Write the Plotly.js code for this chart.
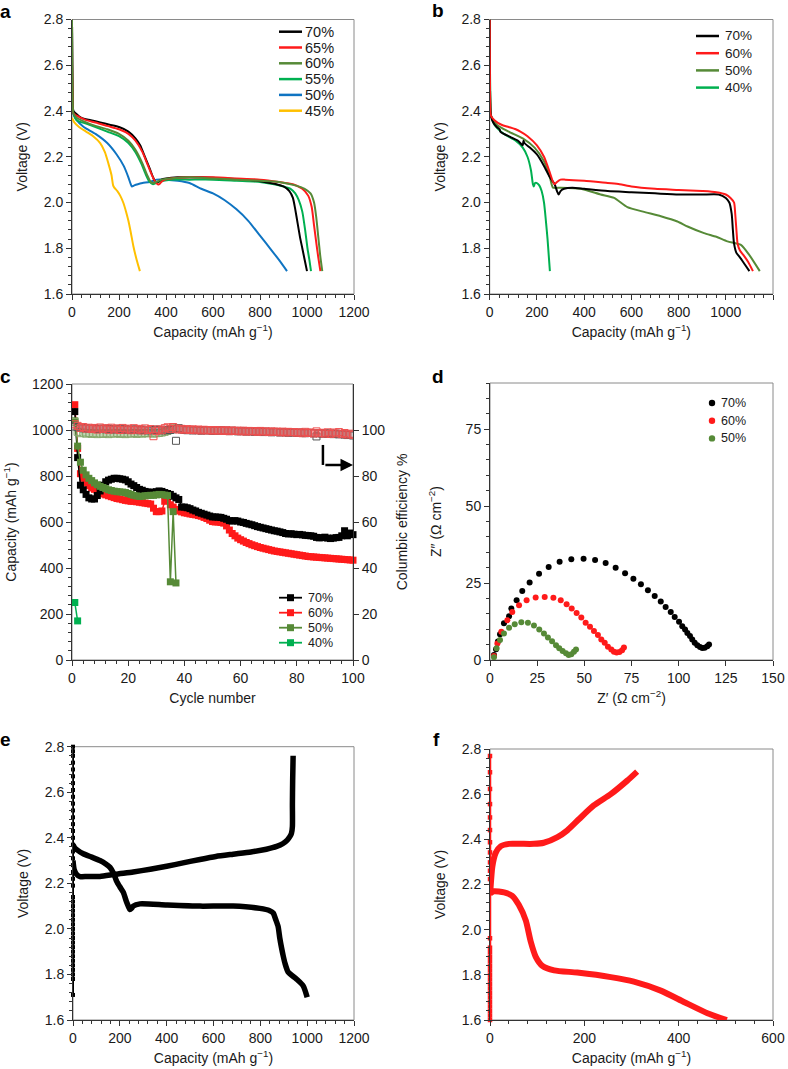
<!DOCTYPE html>
<html><head><meta charset="utf-8">
<script src="https://cdn.plot.ly/plotly-3.0.1.min.js"></script>
<style>html,body{margin:0;padding:0;background:#fff}#chart{width:788px;height:1069px}</style>
</head><body><div id="chart"></div><script>
// ---------- Panel a: discharge curves at different porosities ----------
const capA70 = [0,1,3,6,15,40,80,120,160,200,240,270,290,310,330,345,355,365,380,400,450,550,650,750,820,870,900,925,940,950,960,970,980,990,1000];
const vA70   = [2.80,2.60,2.45,2.40,2.39,2.37,2.36,2.35,2.34,2.33,2.31,2.28,2.25,2.20,2.15,2.11,2.09,2.09,2.10,2.105,2.11,2.11,2.105,2.10,2.09,2.08,2.07,2.05,2.02,1.97,1.91,1.85,1.80,1.75,1.70];
const capA65 = [0,1,3,6,20,60,100,150,200,240,270,300,320,340,355,365,372,380,395,420,500,600,700,800,880,940,980,1005,1020,1030,1040,1048,1057];
const vA65   = [2.80,2.60,2.45,2.39,2.38,2.36,2.35,2.335,2.32,2.30,2.27,2.22,2.17,2.12,2.09,2.08,2.08,2.09,2.10,2.105,2.11,2.11,2.105,2.10,2.09,2.08,2.06,2.03,1.98,1.90,1.82,1.76,1.70];
const capA60 = [0,1,3,6,20,60,100,150,200,240,270,300,320,335,345,360,380,420,500,600,700,800,880,950,990,1015,1030,1040,1048,1056,1065];
const vA60   = [2.80,2.60,2.45,2.39,2.37,2.35,2.335,2.32,2.30,2.27,2.23,2.17,2.12,2.09,2.085,2.09,2.10,2.105,2.11,2.105,2.10,2.095,2.09,2.075,2.06,2.04,2.00,1.93,1.85,1.77,1.70];
const capA55 = [0,1,3,6,20,60,100,150,200,240,270,295,315,330,345,370,420,500,600,700,800,860,900,930,950,965,980,992,1002,1010,1017];
const vA55   = [2.80,2.60,2.45,2.39,2.36,2.345,2.33,2.31,2.29,2.26,2.22,2.17,2.12,2.09,2.08,2.09,2.10,2.10,2.10,2.095,2.09,2.08,2.07,2.06,2.04,2.01,1.96,1.88,1.80,1.75,1.70];
const capA50 = [0,2,5,20,50,100,150,190,220,240,250,255,265,280,300,330,360,400,450,500,550,600,650,700,750,800,850,880,915];
const vA50   = [2.80,2.45,2.39,2.36,2.33,2.30,2.26,2.21,2.16,2.11,2.08,2.07,2.075,2.08,2.085,2.09,2.10,2.10,2.095,2.085,2.06,2.04,2.01,1.97,1.92,1.855,1.79,1.75,1.70];
const capA45 = [0,10,30,60,90,120,140,155,168,175,180,193,205,218,230,240,250,261,275,289];
const vA45   = [2.37,2.35,2.33,2.31,2.29,2.26,2.22,2.17,2.12,2.075,2.065,2.05,2.03,2.00,1.96,1.92,1.87,1.81,1.75,1.70];
const legendA = ['70%', '65%', '60%', '55%', '50%', '45%'];

// ---------- Panel b ----------
const capB70 = [0,2,5,15,30,42,45,60,90,120,140,143,147,170,200,230,255,275,285,292,300,315,350,400,500,600,700,800,900,970,1000,1015,1025,1030,1035,1045,1060,1080,1100];
const vB70   = [2.80,2.45,2.38,2.35,2.33,2.32,2.31,2.30,2.285,2.27,2.25,2.27,2.26,2.24,2.21,2.16,2.11,2.08,2.05,2.035,2.05,2.06,2.065,2.06,2.05,2.045,2.04,2.035,2.035,2.035,2.02,2.00,1.95,1.88,1.82,1.78,1.76,1.73,1.70];
const capB60 = [0,2,5,20,50,80,110,130,160,200,230,255,268,275,285,300,320,400,500,550,600,700,800,900,960,1000,1020,1035,1040,1045,1050,1060,1075,1095,1115];
const vB60   = [2.80,2.45,2.38,2.36,2.34,2.33,2.32,2.31,2.29,2.25,2.20,2.13,2.09,2.08,2.09,2.10,2.10,2.095,2.085,2.08,2.07,2.06,2.055,2.05,2.045,2.035,2.02,2.00,1.95,1.88,1.82,1.79,1.77,1.74,1.70];
const capB50 = [0,2,5,30,80,140,190,230,255,268,300,386,470,527,583,650,725,795,838,908,960,1007,1064,1100,1144];
const vB50   = [2.80,2.45,2.38,2.34,2.31,2.28,2.24,2.18,2.11,2.065,2.065,2.06,2.035,2.02,1.98,1.96,1.94,1.917,1.895,1.866,1.85,1.83,1.815,1.77,1.70];
const capB40 = [0,1,3,6,20,60,110,140,160,175,183,187,192,200,210,220,230,238,245,250,255];
const vB40   = [2.80,2.60,2.45,2.38,2.34,2.30,2.27,2.24,2.20,2.14,2.08,2.07,2.085,2.085,2.075,2.05,2.00,1.92,1.84,1.77,1.70];
const legendB = ['70%', '60%', '50%', '40%'];

// ---------- Panel c: cycling ----------
const cycleNumbers = [1,2,3,4,5,6,7,8,9,10,11,12,13,14,15,16,17,18,19,20,21,22,23,24,25,26,27,28,29,30,31,32,33,34,35,36,37,38,39,40,41,42,43,44,45,46,47,48,49,50,51,52,53,54,55,56,57,58,59,60,61,62,63,64,65,66,67,68,69,70,71,72,73,74,75,76,77,78,79,80,81,82,83,84,85,86,87,88,89,90,91,92,93,94,95,96,97,98,99,100];
const capC70 = [1080,880,760,740,720,705,700,700,715,735, 760,775,782,786,790,790,788,786,783,775, 765,758,750,742,738,733,730,730,728,732, 735,733,728,724,720,712,705,698,665,665, 662,658,652,648,642,638,634,630,626,622, 622,621,620,616,612,606,604,606,604,600, 598,594,591,588,584,580,577,574,571,568, 565,562,560,557,554,550,548,549,547,545, 546,544,542,541,540,538,533,531,532,534, 530,528,530,532,533,540,562,540,552,545];
const capC60 = [1110,920,810,790,770,758,748,742,735,728, 722,718,714,710,706,702,700,697,694,692, 690,690,688,686,684,682,680,678,660,645, 645,648,690,700,675,665,655,648,644,640, 638,635,633,631,628,625,620,615,608,602, 600,600,598,595,583,565,550,540,530,523, 517,511,506,501,497,493,489,486,483,480, 477,474,472,470,468,466,464,462,460,458, 456,454,452,450,449,448,447,446,445,444, 443,442,441,440,439,438,437,436,435,434];
const capC50 = [1040,930,860,825,805,790,780,770,762,755, 750,745,740,737,734,732,731,730,728,724, 720,716,713,711,712,714,715,716,716,718, 720,719,717,715,340,645,335];
const capC40 = [250,170];
const ceC70 = [101.5,101.2,100.9,100.7,100.8,100.6,100.5,100.7,100.4,100.6, 100.5,100.3,100.6,100.4,100.2,100.5,100.3,100.1,100.4,100.2, 100.0,100.3,100.1,99.9,100.2,100.0,99.8,100.1,99.9,100.2, 100.0,99.8,100.1,99.9,100.0,100.3,95.3,100.8,100.2,100.0, 99.9,100.1,99.8,100.0,99.9,99.7,100.0,99.8,99.9,99.6, 99.8,99.7,99.9,99.6,99.8,99.5,99.7,99.6,99.4,99.6, 99.5,99.3,99.5,99.4,99.2,99.4,99.3,99.1,99.3,99.2, 99.0,99.2,99.1,98.9,99.1,99.0,98.8,99.0,98.9,98.7, 98.9,98.8,98.6,98.8,98.7,98.5,97.2,98.6,98.4,98.6, 98.3,98.5,98.2,98.4,98.1,98.3,98.0,97.8,98.1,97.6];
const ceC60 = [102.5,101.8,100.9,101.3,100.6,101.0,100.4,100.9,100.2,101.1, 100.5,100.8,100.1,101.0,100.3,100.7,100.0,100.9,100.2,100.6, 99.9,100.8,100.1,100.5,99.8,100.7,100.0,100.4,97.3,99.6, 100.3,99.9,100.8,101.2,100.5,101.3,100.6,100.2,100.5,100.1, 100.4,100.0,100.3,99.9,100.2,99.8,100.1,99.8,100.0,99.7, 100.0,99.7,99.9,99.6,99.9,99.5,99.8,99.6,99.7,99.4, 99.7,99.3,99.6,99.4,99.5,99.2,99.6,99.3,99.4,99.1, 99.4,99.2,99.3,99.0,99.3,98.9,99.2,99.0,99.1,98.8, 99.0,98.6,99.2,98.7,98.9,98.5,99.4,98.6,98.8,98.4, 99.0,98.3,98.9,98.5,99.1,98.2,98.7,98.0,98.4,97.9];
const ceC50 = [103.5,99.2,98.6,98.9,98.4,98.7,98.3,98.6,98.2,98.5, 98.3,98.6,98.2,98.5,98.4,98.7,98.3,98.6,98.2,98.5, 98.4,98.7,98.3,98.6,98.4,98.7,98.5,98.8,98.4,98.6, 98.7,98.9,99.2,99.6,100.4,101.0,100.6];
const legendC = ['70%', '60%', '50%', '40%'];

// ---------- Panel d: Nyquist ----------
const zreD70 = [2.1,3.2,4.2,5.3,7.4,10.1,11.3,14.1,17.1,21.0,26.0,31.1,36.9,43.1,49.6,55.7,61.3,66.6,71.6,76.0,80.0,83.7,87.3,90.5,93.1,95.8,97.9,100.2,101.9,103.4,104.6,106.0,107.2,108.5,109.9,111.3,112.5,113.8,115.2,116.1];
const zimD70 = [1.6,3.5,6.0,8.4,11.9,14.2,16.7,19.4,22.4,25.2,28.0,30.2,31.9,32.7,32.9,32.5,31.5,30.0,28.2,26.4,24.6,22.7,20.8,19.0,17.2,15.6,14.0,12.4,11.0,9.9,8.8,7.8,6.7,5.6,4.8,4.2,3.9,4.0,4.5,5.0];
const zreD60 = [2.1,3.9,6.0,9.2,11.8,15.4,19.4,24.2,29.0,33.6,37.5,40.6,43.3,45.9,48.4,50.7,53.0,55.1,57.2,59.0,60.8,62.5,64.3,65.7,67.1,68.6,70.0,71.0];
const zimD60 = [1.3,5.4,9.2,12.9,15.6,17.8,19.4,20.3,20.5,20.2,19.4,18.1,16.7,15.3,13.8,12.1,10.8,9.4,8.1,6.7,5.6,4.3,3.4,2.7,2.4,2.6,3.2,4.1];
const zreD50 = [2.1,3.5,5.3,7.4,10.1,13.1,16.6,20.1,23.3,26.1,28.6,30.7,32.9,35.0,36.7,38.5,40.3,41.7,43.1,44.5,45.6];
const zimD50 = [0.9,3.8,6.5,8.6,10.5,11.6,12.3,12.1,11.2,9.9,8.6,7.3,6.1,4.8,3.8,2.9,2.2,1.6,1.9,2.7,3.4];
const legendD = ['70%', '60%', '50%'];

// ---------- Panel e ----------
const capEdis = [0,8,44,80,115,140,158,175,186,200,215,228,236,243,250,257,286,400,542,684,798,840,855,866,876,883,890,898,905,919,954,983,1000];
const vEdis   = [2.37,2.355,2.33,2.315,2.30,2.285,2.27,2.24,2.21,2.185,2.16,2.12,2.10,2.085,2.09,2.10,2.11,2.105,2.10,2.10,2.09,2.08,2.07,2.04,2.01,1.96,1.92,1.88,1.85,1.81,1.78,1.75,1.70];
const capEchg = [0,5,15,30,60,115,180,257,330,400,470,542,610,684,760,826,870,897,915,926,933,937,937,938,940];
const vEchg   = [2.30,2.26,2.24,2.23,2.23,2.23,2.24,2.25,2.262,2.275,2.29,2.305,2.318,2.328,2.338,2.35,2.362,2.375,2.39,2.405,2.42,2.45,2.55,2.65,2.76];
const vEcol   = [1.71,1.78,1.80,1.82,1.84,1.86,1.88,1.90,1.92,1.94,1.96,1.98,2.00,2.02,2.04,2.06,2.08,2.10,2.12,2.14,2.19,2.22,2.25,2.28,2.31,2.34,2.37,2.40,2.43,2.46,2.49,2.52,2.55,2.58,2.61,2.64,2.67,2.70,2.73,2.76,2.78,2.80];
const capEcol = vEcol.map(() => 0);

// ---------- Panel f ----------
const capFdis = [0,8,30,47,61,76,86,97,111,136,185,256,305,362,411,461,502];
const vFdis   = [2.16,2.17,2.165,2.15,2.11,2.04,1.95,1.88,1.84,1.82,1.81,1.79,1.77,1.73,1.68,1.63,1.60];
const capFchg = [1,5,12,23,40,65,93,114,143,164,189,220,256,291,312];
const vFchg   = [2.18,2.28,2.34,2.37,2.38,2.38,2.38,2.385,2.41,2.44,2.49,2.55,2.60,2.66,2.70];
const vFcol   = [1.60,1.62,1.64,1.66,1.68,1.70,1.72,1.74,1.76,1.78,1.80,1.82,1.84,1.86,1.88,1.90,1.92,1.962,2.224,2.261,2.298,2.342,2.387,2.441,2.497,2.556,2.623,2.697,2.769];
const capFcol = vFcol.map(() => 0);

// ---------- colours ----------
const BLACK = '#000000', RED = '#ff1a1a', OLIVE = '#568a37', GREEN = '#00b050', BLUE = '#0f74c2', YELLOW = '#ffc000';
const FONT = 'Liberation Sans, Arial, Helvetica, sans-serif';
const TXT = '#1a1a1a';
const colorsA = [BLACK, RED, OLIVE, GREEN, BLUE, YELLOW];
const colorsB = [BLACK, RED, OLIVE, GREEN];
const colorsC = [BLACK, RED, OLIVE, GREEN];
const colorsD = [BLACK, RED, OLIVE];

function ln(x, y, name, color, xa, ya, w) {
  return {x: x, y: y, name: name, type: 'scatter', mode: 'lines', line: {color: color, width: w || 2, shape: 'spline', smoothing: 0.6},
          xaxis: xa, yaxis: ya, showlegend: false, hoverinfo: 'skip'};
}

const traces = [];
// a
traces.push(ln(capA45, vA45, '45%', YELLOW, 'x', 'y'));
traces.push(ln(capA50, vA50, '50%', BLUE, 'x', 'y'));
traces.push(ln(capA55, vA55, '55%', GREEN, 'x', 'y'));
traces.push(ln(capA70, vA70, '70%', BLACK, 'x', 'y'));
traces.push(ln(capA65, vA65, '65%', RED, 'x', 'y'));
traces.push(ln(capA60, vA60, '60%', OLIVE, 'x', 'y'));
// b
traces.push(ln(capB40, vB40, '40%', GREEN, 'x2', 'y2'));
traces.push(ln(capB50, vB50, '50%', OLIVE, 'x2', 'y2'));
traces.push(ln(capB70, vB70, '70%', BLACK, 'x2', 'y2'));
traces.push(ln(capB60, vB60, '60%', RED, 'x2', 'y2'));
// c : coulombic efficiency (open squares, right axis)
function ce(y, color, n) {
  return {x: cycleNumbers.slice(0, y.length), y: y, type: 'scatter', mode: 'markers', showlegend: false,
          marker: {symbol: 'square-open', size: 7, color: color, line: {width: 1, color: color}},
          xaxis: 'x3', yaxis: 'y7', hoverinfo: 'skip', name: n};
}
traces.push(ce(ceC50, '#86a86a', 'CE 50%'));
traces.push(ce(ceC70, '#555555', 'CE 70%'));
traces.push(ce(ceC60, '#f05050', 'CE 60%'));
function capTr(y, name, color) {
  return {x: cycleNumbers.slice(0, y.length), y: y, name: name, type: 'scatter', mode: 'lines+markers',
          line: {color: color, width: 1.5}, marker: {symbol: 'square', size: 7, color: color},
          xaxis: 'x3', yaxis: 'y3', showlegend: false, hoverinfo: 'skip', cliponaxis: false};
}
traces.push(capTr(capC60, '60%', RED));
traces.push(capTr(capC70, '70%', BLACK));
traces.push(capTr(capC50, '50%', OLIVE));
traces.push(capTr(capC40, '40%', GREEN));
// d
function dots(x, y, name, color) {
  return {x: x, y: y, name: name, type: 'scatter', mode: 'markers', marker: {size: 6, color: color},
          xaxis: 'x4', yaxis: 'y4', showlegend: false, hoverinfo: 'skip'};
}
traces.push(dots(zreD70, zimD70, '70%', BLACK));
traces.push(dots(zreD60, zimD60, '60%', RED));
traces.push(dots(zreD50, zimD50, '50%', OLIVE));
// e
traces.push({x: capEcol, y: vEcol, type: 'scatter', mode: 'lines+markers', line: {color: BLACK, width: 2},
             marker: {symbol: 'square', size: 4, color: BLACK}, xaxis: 'x5', yaxis: 'y5', showlegend: false, hoverinfo: 'skip', cliponaxis: false});
traces.push(ln(capEchg, vEchg, 'charge', BLACK, 'x5', 'y5', 5.5));
traces.push(ln(capEdis, vEdis, 'discharge', BLACK, 'x5', 'y5', 5.5));
// f
traces.push({x: capFcol, y: vFcol, type: 'scatter', mode: 'lines+markers', line: {color: RED, width: 2.5},
             marker: {symbol: 'square', size: 4.5, color: RED}, xaxis: 'x6', yaxis: 'y6', showlegend: false, hoverinfo: 'skip', cliponaxis: false});
traces.push(ln(capFchg, vFchg, 'charge', RED, 'x6', 'y6', 6));
traces.push(ln(capFdis, vFdis, 'discharge', RED, 'x6', 'y6', 6));

// ---------- layout ----------
const W = 788, H = 1069;
const dx = (a, b) => [a / W, b / W];
const dy = (top, bottom) => [1 - bottom / H, 1 - top / H];
const tf = {family: FONT, size: 14, color: TXT};
function axis(o) {
  const base = {showline: true, linecolor: '#333', linewidth: 1, ticks: 'outside', ticklen: 5, tickwidth: 1, tickcolor: '#333',
                showgrid: false, zeroline: false, tickfont: tf, automargin: false, fixedrange: true};
  const r = Object.assign(base, o);
  if (o.minorD) { r.minor = {ticks: 'outside', ticklen: 3, tickwidth: 1, tickcolor: '#333', dtick: o.minorD, showgrid: false}; delete r.minorD; }
  if (o.t) { r.title = {text: o.t, font: tf, standoff: o.so}; delete r.t; delete r.so; }
  return r;
}
const capTitle = 'Capacity (mAh g<sup>−1</sup>)';

const layout = {
  width: W, height: H, margin: {l: 0, r: 0, t: 0, b: 0}, paper_bgcolor: '#fff', plot_bgcolor: 'rgba(0,0,0,0)',
  font: {family: FONT, color: TXT}, showlegend: false,
  xaxis:  axis({domain: dx(72, 354), range: [0, 1200], dtick: 200, minorD: 40, anchor: 'y', t: capTitle, so: 8}),
  yaxis:  axis({domain: dy(19.5, 294), range: [1.6, 2.8], dtick: 0.2, tickformat: '.1f', minorD: 0.04, anchor: 'x', t: 'Voltage (V)', so: 12}),
  xaxis2: axis({domain: dx(489.7, 773), range: [0, 1200], dtick: 200, minorD: 40, anchor: 'y2', t: capTitle, so: 8}),
  yaxis2: axis({domain: dy(19.5, 294), range: [1.6, 2.8], dtick: 0.2, tickformat: '.1f', minorD: 0.04, anchor: 'x2', t: 'Voltage (V)', so: 12}),
  xaxis3: axis({domain: dx(72, 353), range: [0, 100], dtick: 20, minorD: 4, anchor: 'y3', t: 'Cycle number', so: 8}),
  yaxis3: axis({domain: dy(384, 660), range: [0, 1200], dtick: 200, minorD: 40, anchor: 'x3', t: 'Capacity (mAh g<sup>−1</sup>)', so: 12}),
  yaxis7: axis({overlaying: 'y3', side: 'right', anchor: 'x3', range: [0, 120], dtick: 20, tickvals: [0, 20, 40, 60, 80, 100], t: 'Columbic efficiency %', so: 12}),
  xaxis4: axis({domain: dx(490, 773), range: [0, 150], dtick: 25, anchor: 'y4', t: 'Z′ (Ω cm<sup>−2</sup>)', so: 8}),
  yaxis4: axis({domain: dy(383, 660), range: [0, 90], tickvals: [0, 25, 50, 75], minorD: 5, anchor: 'x4', t: 'Z″ (Ω cm<sup>−2</sup>)', so: 20}),
  xaxis5: axis({domain: dx(73, 354), range: [0, 1200], dtick: 200, minorD: 40, anchor: 'y5', t: capTitle, so: 8}),
  yaxis5: axis({domain: dy(746.7, 1020), range: [1.6, 2.8], dtick: 0.2, tickformat: '.1f', minorD: 0.04, anchor: 'x5', t: 'Voltage (V)', so: 12}),
  xaxis6: axis({domain: dx(490, 773), range: [0, 600], dtick: 200, minorD: 40, anchor: 'y6', t: capTitle, so: 8}),
  yaxis6: axis({domain: dy(749, 1020), range: [1.6, 2.8], dtick: 0.2, tickformat: '.1f', minorD: 0.04, anchor: 'x6', t: 'Voltage (V)', so: 12}),
  shapes: [],
  annotations: []
};
[['x', 'y'], ['x2', 'y2'], ['x3', 'y3'], ['x4', 'y4'], ['x5', 'y5'], ['x6', 'y6']].forEach(function (p) {
  layout.shapes.push({type: 'rect', xref: p[0] + ' domain', yref: p[1] + ' domain', x0: 0, x1: 1, y0: 0, y1: 1,
                      line: {color: '#8a8a8a', width: 1}, layer: 'below'});
});
// arrow pointing to the right-hand axis in panel c
layout.shapes.push({type: 'line', xref: 'x3', yref: 'y3', x0: 89.3, x1: 89.3, y0: 935, y1: 848, line: {color: '#000', width: 2.5}});
layout.annotations.push({xref: 'x3', yref: 'y3', axref: 'x3', ayref: 'y3', x: 100, y: 848, ax: 89.1, ay: 848, text: ' ',
                         showarrow: true, arrowhead: 2, arrowsize: 1, arrowwidth: 2.5, arrowcolor: '#000'});
// panel letters
[['a', 5, 12], ['b', 438, 10], ['c', 5, 377], ['d', 438, 377], ['e', 5, 739], ['f', 436, 739]].forEach(function (l) {
  layout.annotations.push({xref: 'paper', yref: 'paper', x: l[1] / W, y: 1 - l[2] / H, xanchor: 'center', yanchor: 'middle',
                           text: '<b>' + l[0] + '</b>', showarrow: false, font: {family: FONT, size: 19, color: '#000'}});
});

// ---------- hand-built legends (compact row spacing as in the figure) ----------
function addLegend(labels, colors, o) {
  labels.forEach(function (lab, i) {
    const yc = 1 - (o.y0 + i * o.dy) / H;
    if (o.kind !== 'dot') {
      layout.shapes.push({type: 'line', xref: 'paper', yref: 'paper', x0: o.l0 / W, x1: o.l1 / W, y0: yc, y1: yc,
                          line: {color: colors[i], width: o.lw || 2.5}});
    }
    if (o.kind === 'square') {
      const m = (o.l0 + o.l1) / 2, s = 3.5;
      layout.shapes.push({type: 'rect', xref: 'paper', yref: 'paper', x0: (m - s) / W, x1: (m + s) / W, y0: yc - s / H, y1: yc + s / H,
                          line: {width: 0}, fillcolor: colors[i]});
    }
    if (o.kind === 'dot') {
      const r = 3.2;
      layout.shapes.push({type: 'circle', xref: 'paper', yref: 'paper', x0: (o.cx - r) / W, x1: (o.cx + r) / W, y0: yc - r / H, y1: yc + r / H,
                          line: {width: 0}, fillcolor: colors[i]});
    }
    layout.annotations.push({xref: 'paper', yref: 'paper', x: o.tx / W, y: yc, xanchor: 'left', yanchor: 'middle', showarrow: false,
                             text: lab, font: {family: FONT, size: o.fs, color: TXT}, borderpad: 0});
  });
}
addLegend(legendA, colorsA, {l0: 279, l1: 302, tx: 304, y0: 31.7, dy: 15.8, fs: 14.5});
addLegend(legendB, colorsB, {l0: 696, l1: 719, tx: 724, y0: 36, dy: 17.2, fs: 13.5});
addLegend(legendC, colorsC, {l0: 279, l1: 302, tx: 307, y0: 597.7, dy: 15, fs: 12.5, kind: 'square', lw: 1.8});
addLegend(legendD, colorsD, {cx: 712, tx: 720, y0: 403, dy: 17.7, fs: 12.5, kind: 'dot'});

Plotly.newPlot('chart', traces, layout, {staticPlot: true, displayModeBar: false});
</script></body></html>
